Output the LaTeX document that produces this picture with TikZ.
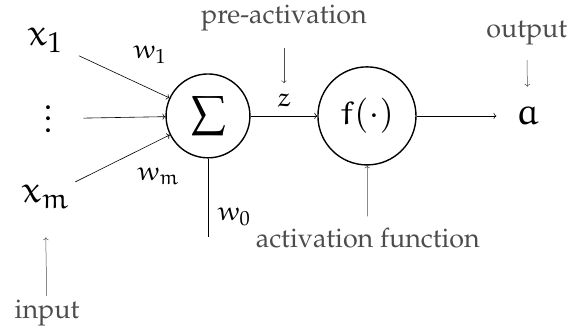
\documentclass[tikz,border=0pt]{standalone}
\usepackage[T1]{fontenc}
\usepackage{mathpazo}
\DeclareFontFamily{U}{myeur}{}
\DeclareFontShape{U}{myeur}{m}{n}{<-> eurm10}{}
\DeclareMathAlphabet{\mathe}{U}{myeur}{m}{n}
\usetikzlibrary{calc}
\usetikzlibrary{arrows.meta}

\tikzset{
  unit/.style={circle, draw, line width=1.4pt, inner sep=2pt,
    font=\fontsize{34}{40}\selectfont},
  big/.style={font=\fontsize{38}{44}\selectfont},
  small/.style={font=\fontsize{27}{32}\selectfont, inner sep=2pt},
  note/.style={font=\fontsize{27}{32}\selectfont, text=black!70},
  inp/.style={big, minimum width=2.47cm},
  link/.style={->, line width=0.6pt},
  hint/.style={->, line width=0.5pt, black!70},
}

\begin{document}
\begin{tikzpicture}
  \useasboundingbox (-7.34,-7.66) rectangle (12.88,4.09);

  % units
  \node [unit, minimum size=2.96cm, font=\fontsize{44}{50}\selectfont] (sum) at (0,0) {$\sum$};
  \node [unit, minimum size=3.46cm] (act) at (5.61,0) {$\mathe{f}(\cdot)$};

  % inputs and output
  \node [inp] (x1) at (-5.75,2.68) {$\mathe{x}_1$};
  \node [inp, align=center, font=\fontsize{34}{11.5}\selectfont] (dots) at (-5.64,-0.1) {.\\.\\.};
  \node [inp] (xm) at (-5.75,-2.86) {$\mathe{x}_{\mathe{m}}$};
  \node [big, minimum width=2.19cm] (a) at (11.28,0) {$\mathe{a}$};
  \coordinate (bias) at (0,-4.27);

  % weights
  \node [small] (w1) at (-2.05,2.15) {$\mathe{w}_1$};
  \node [small] (wm) at (-1.76,-2.12) {$\mathe{w}_{\mathe{m}}$};
  \node [small] (w0) at (0.92,-3.56) {$\mathe{w}_0$};
  \node [small] (z) at (2.68,0.56) {$\mathe{z}$};

  % notes
  \node [note] (pre) at (2.68,3.45) {pre-activation};
  \node [note] (out) at (11.25,2.93) {output};
  \node [note] (fun) at (5.64,-4.30) {activation function};
  \node [note] (in) at (-5.68,-6.95) {input};

  \draw [link] (x1) -- (sum);
  \draw [link] (dots) -- (sum);
  \draw [link] (xm) -- (sum);
  \draw [line width=0.6pt] (sum) -- (bias);
  \draw [link] (sum) -- (act);
  \draw [link] (act) -- (a);

  \draw [hint, shorten <=0.45cm, shorten >=0.3cm] (pre) -- (z);
  \draw [hint, shorten <=0.42cm, shorten >=0.6cm] (out) -- (a);
  \draw [hint, shorten <=0.28cm] (fun) -- (act);
  \draw [hint, shorten >=0.9cm] (in) -- (xm);
\end{tikzpicture}
\end{document}
